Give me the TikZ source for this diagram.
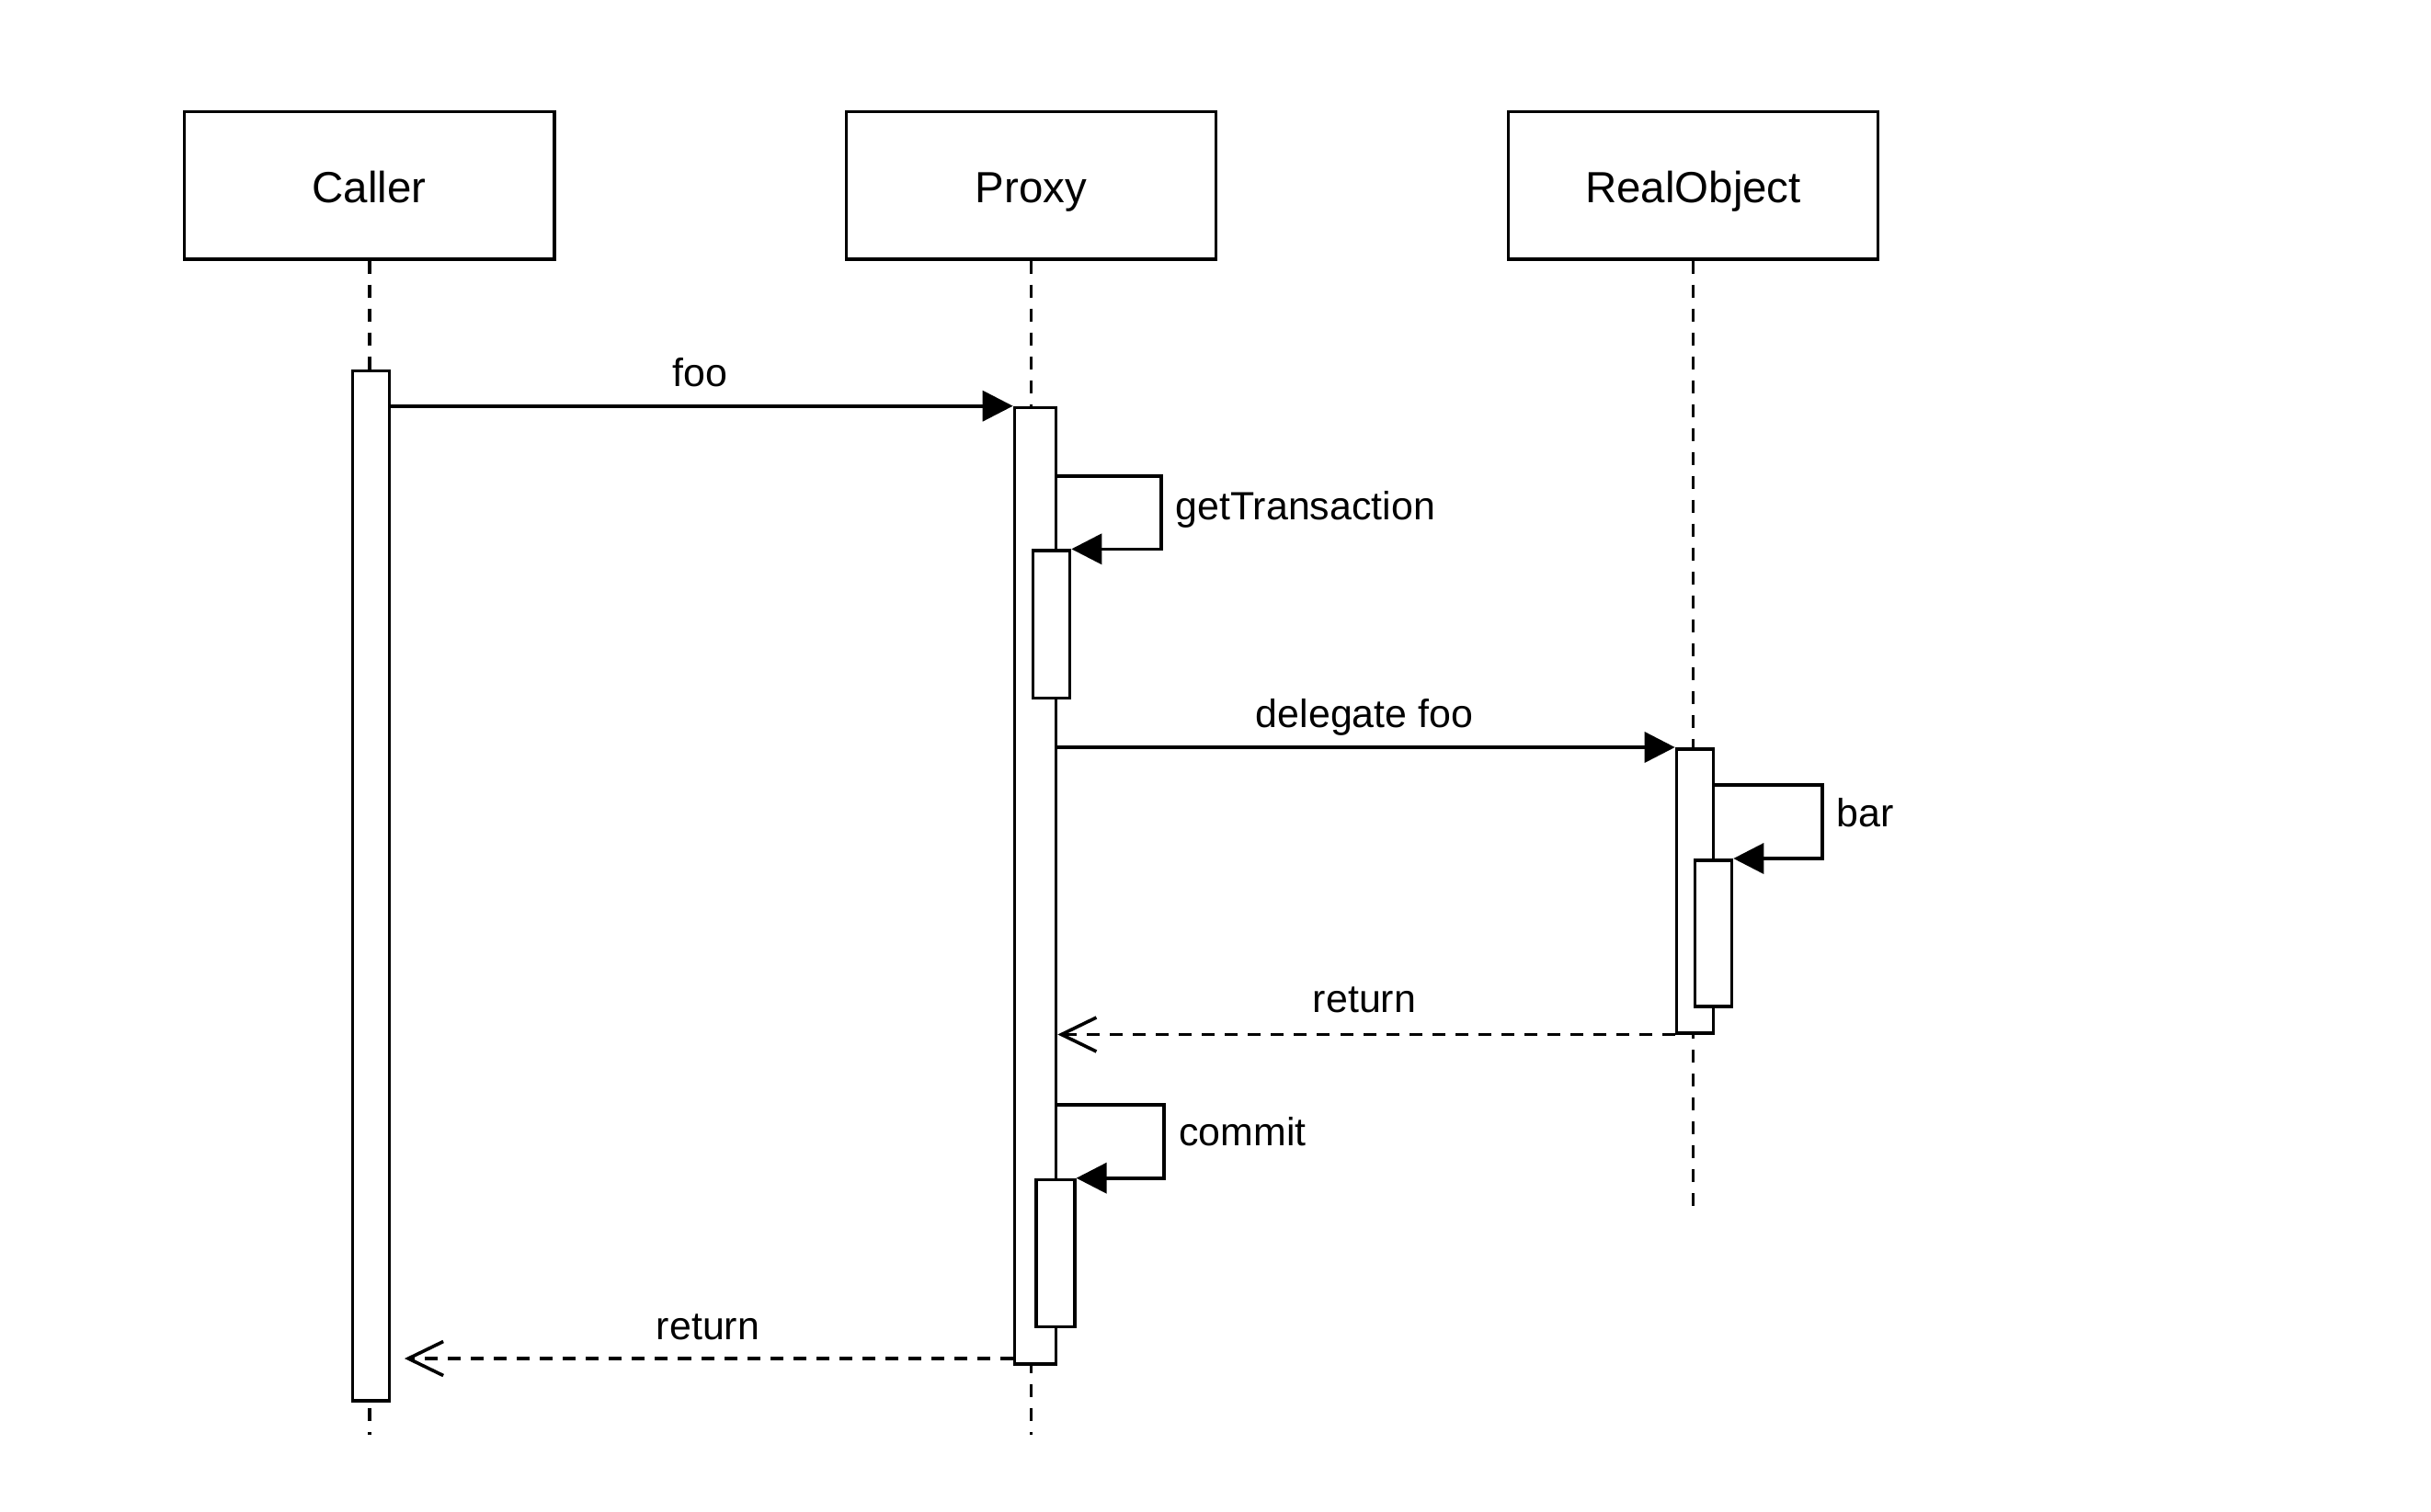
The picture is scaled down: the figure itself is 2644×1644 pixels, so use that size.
\documentclass[tikz,border=0pt]{standalone}
\usepackage{fontspec}
\setmainfont{Liberation Sans}
\usetikzlibrary{arrows.meta}
\begin{document}
\begin{tikzpicture}[x=0.01cm,y=-0.01cm,
  lw/.style={line width=0.036cm},
  obj/.style={draw,lw,rectangle,inner sep=0pt,minimum width=4.02cm,minimum height=1.6cm,
    font=\fontsize{13.5}{16}\selectfont,text height=0.366cm,text depth=0pt},
  act/.style={draw,lw,fill=white,rectangle,inner sep=0pt,anchor=north west},
  life/.style={lw,dash pattern=on 0.14cm off 0.12cm},
  call/.style={lw,-{Triangle[length=0.33cm,width=0.33cm]}},
  ret/.style={lw,dash pattern=on 0.14cm off 0.11cm,-{Straight Barb[length=0.38cm,width=0.37cm]}},
  lbl/.style={font=\fontsize{12.2}{14}\selectfont,inner sep=0pt},
]
\useasboundingbox (0,0) rectangle (2644,1644);

% participants
\node[obj] (caller)  at (401.7,201.7)  {Caller};
\node[obj] (proxy)   at (1121.5,201.7) {Proxy};
\node[obj] (realobj) at (1841.5,201.7) {RealObject};

% lifeline ends
\coordinate (cEnd) at (401.7,1561);
\coordinate (pEnd) at (1121.5,1561);
\coordinate (rEnd) at (1841.5,1322);

\draw[life] (caller.south) -- (cEnd);
\draw[life] (proxy.south) -- (pEnd);
\draw[life] (realobj.south) -- (rEnd);

% activations
\node[act,minimum width=0.40cm,minimum height=11.20cm] (ca)  at (381.7,401.7) {};
\node[act,minimum width=0.45cm,minimum height=10.40cm] (pa)  at (1101.7,441.7) {};
\node[act,minimum width=0.40cm,minimum height=1.604cm] (pn1) at (1121.7,597.3) {};
\node[act,minimum width=0.42cm,minimum height=1.60cm]  (pn2) at (1125,1281.7) {};
\node[act,minimum width=0.40cm,minimum height=3.087cm] (ra)  at (1821.7,813) {};
\node[act,minimum width=0.40cm,minimum height=1.593cm] (rn)  at (1841.7,934) {};

% foo
\draw[call] (pa.north west -| ca.east) -- (pa.north west);
\node[lbl,anchor=base] (lfoo) at (761.7,420.7) {foo};

% getTransaction
\coordinate (gtc) at (1262.7,517.7);
\draw[call] (gtc -| pa.east) -- (gtc) |- (pn1.north east);
\node[lbl,anchor=base west] (lgt) at (1278,565) {getTransaction};

% delegate foo
\draw[call] (ra.north west -| pa.east) -- (ra.north west);
\node[lbl,anchor=base] (ldel) at (1484,791) {delegate foo};

% bar
\coordinate (brc) at (1981.7,854);
\draw[call] (brc -| ra.east) -- (brc) |- (rn.north east);
\node[lbl,anchor=base west] (lbar) at (1997,899) {bar};

% return to proxy
\draw[ret] (ra.south west) -- (ra.south west -| pa.east);
\node[lbl,anchor=base] (lret1) at (1484,1101) {return};

% commit
\coordinate (cmc) at (1266,1201.7);
\draw[call] (cmc -| pa.east) -- (cmc) |- (pn2.north east);
\node[lbl,anchor=base west] (lcm) at (1281.7,1246.7) {commit};

% return to caller
\coordinate (r2) at (440,1478);
\draw[ret] (r2 -| pa.west) -- (r2);
\node[lbl,anchor=base] (lret2) at (770,1457) {return};
\end{tikzpicture}
\end{document}
